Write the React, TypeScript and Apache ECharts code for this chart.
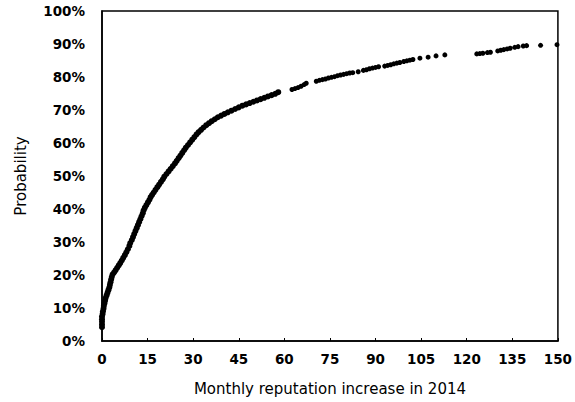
import React, { useEffect, useRef } from "react";
import * as echarts from "echarts";

const xTicks = { min: 0, max: 150, interval: 15 };
const yTicks = { min: 0, max: 100, interval: 10 };

const xTitle = "Monthly reputation increase in 2014";
const yTitle = "Probability";

const lowPoints: number[][] = [
  [0, 4.2], [0, 5], [0, 5.8], [0, 6.6], [0, 7.4], [0.2, 8.2], [0.3, 9], [0.5, 9.8],
  [0.6, 10.6], [0.8, 11.4], [1, 12.2], [1.2, 13], [1.5, 13.8], [1.8, 14.6], [2.1, 15.4],
  [2.4, 16.2], [2.6, 17], [2.8, 17.8], [3, 18.6], [3.2, 19.4], [3.5, 20.2], [4, 20.8],
  [4.5, 21.5], [5, 22.2], [5.5, 22.9], [6, 23.6], [6.5, 24.4], [7, 25.2], [7.5, 26],
  [8, 26.9], [8.5, 27.8], [9, 28.8], [9.3, 29.7], [9.8, 30.6], [10.2, 31.5], [10.6, 32.4],
  [11, 33.3], [11.4, 34.2], [11.8, 35.1], [12.2, 36], [12.6, 36.9], [13, 37.8], [13.4, 38.7],
  [13.7, 39.6], [14.1, 40.4], [14.6, 41.2], [15.1, 42], [15.6, 42.8], [16, 43.6], [16.5, 44.3],
  [17, 45], [17.6, 45.8], [18.2, 46.6], [18.8, 47.4], [19.4, 48.2], [20, 49], [20.5, 49.8],
  [21.2, 50.6], [21.9, 51.4], [22.6, 52.2], [23.3, 53], [24, 53.8], [24.6, 54.6], [25.2, 55.4],
  [25.8, 56.2], [26.4, 57], [27, 57.8], [27.6, 58.6], [28.3, 59.4], [29, 60.2], [29.7, 61],
  [30.4, 61.8], [31.1, 62.6], [31.8, 63.3], [32.6, 64], [33.4, 64.7], [34.3, 65.4], [35.2, 66],
  [36.1, 66.6], [37.1, 67.2], [38.1, 67.8], [39.2, 68.3], [40.3, 68.8], [41.4, 69.3],
  [42.6, 69.8], [43.8, 70.3], [45, 70.8], [46.2, 71.3], [47.4, 71.7], [48.6, 72.1],
  [49.8, 72.5], [51, 72.9], [52.2, 73.3], [53.4, 73.7], [54.6, 74.1], [55.8, 74.5],
  [57, 74.9], [58, 75.4],
];

const highPoints: number[][] = [
  [62.5, 76.2], [63.5, 76.5], [64.5, 76.8], [65.5, 77.2], [66.5, 77.7], [67.2, 78.1],
  [70.5, 78.7], [71.5, 79], [72.5, 79.2], [73.5, 79.4], [74.5, 79.7], [75.5, 79.9],
  [76.5, 80.1], [77.5, 80.4], [78.5, 80.6], [79.5, 80.8], [80.5, 81], [81.5, 81.2],
  [82.5, 81.3], [84.3, 81.6], [86, 82], [87, 82.2], [88, 82.5], [89, 82.7], [90, 82.9],
  [91, 83.1], [93, 83.3], [94, 83.5], [95, 83.7], [96, 84], [97, 84.2], [98, 84.4],
  [99.3, 84.7], [100.3, 84.9], [101.3, 85.1], [102.3, 85.3], [104.6, 85.7], [107.3, 86],
  [109.9, 86.4], [112.8, 86.7], [123.3, 87], [124.3, 87.1], [125.3, 87.2], [126.8, 87.4],
  [127.8, 87.5], [130.2, 87.9], [131.2, 88.1], [132.2, 88.3], [133.3, 88.5], [134.3, 88.7],
  [135.8, 89], [136.9, 89.2], [138.6, 89.4], [139.7, 89.5], [144.3, 89.6], [149.7, 89.8],
];

const tickFont = {
  fontFamily: "DejaVu Sans",
  fontWeight: "bold" as const,
  fontSize: 13.5,
  color: "#000",
};

export default function App() {
  const ref = useRef<HTMLDivElement>(null);
  useEffect(() => {
    if (!ref.current) return;
    const chart = echarts.init(ref.current, undefined, { renderer: "svg" });
    chart.setOption({
      animation: false,
      backgroundColor: "#fff",
      grid: {
        left: 102,
        right: 17,
        top: 11,
        bottom: 61,
        show: true,
        borderColor: "#000",
        borderWidth: 1.5,
        backgroundColor: "transparent",
      },
      xAxis: {
        type: "value",
        min: xTicks.min,
        max: xTicks.max,
        interval: xTicks.interval,
        name: xTitle,
        nameLocation: "middle",
        nameGap: 40,
        nameTextStyle: { fontFamily: "DejaVu Sans", fontSize: 15, color: "#000" },
        axisLine: { show: true, lineStyle: { color: "#000", width: 1.5 } },
        axisTick: { show: true, inside: true, length: 3, lineStyle: { color: "#000" } },
        axisLabel: { ...tickFont, margin: 11 },
        splitLine: { show: false },
      },
      yAxis: {
        type: "value",
        min: yTicks.min,
        max: yTicks.max,
        interval: yTicks.interval,
        name: yTitle,
        nameLocation: "middle",
        nameGap: 74,
        nameRotate: 90,
        nameTextStyle: { fontFamily: "DejaVu Sans", fontSize: 15, color: "#000" },
        axisLine: { show: true, lineStyle: { color: "#000", width: 1.5 } },
        axisTick: { show: false },
        axisLabel: { ...tickFont, margin: 17, formatter: "{value}%" },
        splitLine: { show: false },
      },
      series: [
        {
          type: "scatter",
          data: lowPoints,
          symbol: "circle",
          symbolSize: 6,
          itemStyle: { color: "#000", opacity: 1 },
        },
        {
          type: "scatter",
          data: highPoints,
          symbol: "circle",
          symbolSize: 5,
          itemStyle: { color: "#000", opacity: 1 },
        },
      ],
    });
    return () => chart.dispose();
  }, []);
  return (
    <div
      ref={ref}
      style={{ position: "fixed", left: 0, top: 0, width: 575, height: 402, background: "#fff" }}
    />
  );
}
